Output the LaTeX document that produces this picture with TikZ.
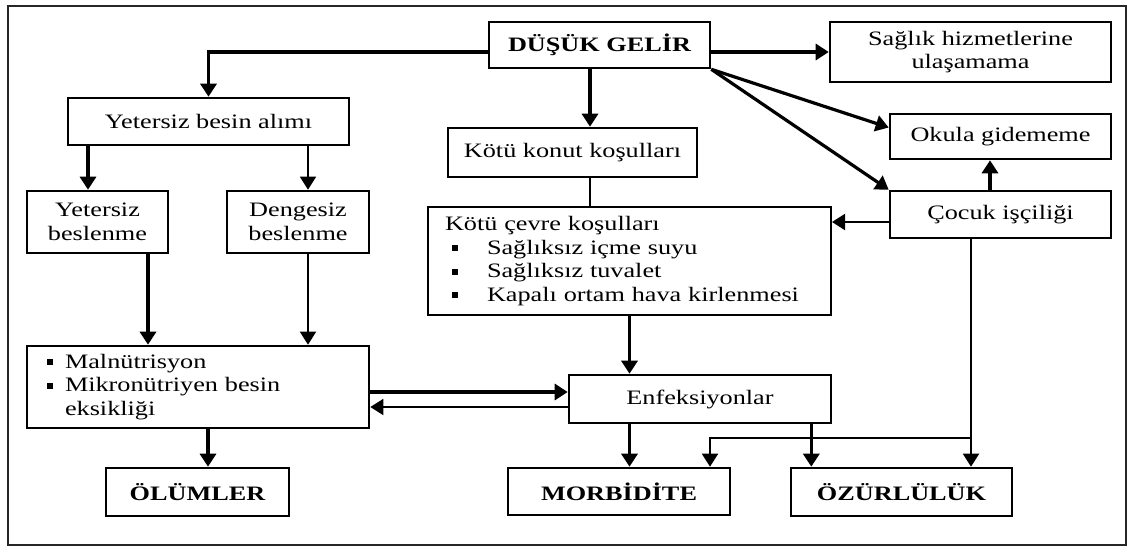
\documentclass[tikz,border=0pt]{standalone}
\usepackage{fontspec}
\setmainfont{Liberation Serif}[FakeStretch=1.28]
\usetikzlibrary{arrows.meta}
\def\sqbullet{\rule[3pt]{6pt}{6pt}}

\begin{document}
\begin{tikzpicture}[x=1pt,y=-1pt,
		box/.style={draw, line width=2.6pt, align=center, inner sep=0pt, font=\fontsize{20.5}{23.5}\selectfont},
		arr/.style={line width=3.2pt, -{Triangle[length=13pt,width=16pt]}},
		marr/.style={line width=2pt, -{Triangle[length=13pt,width=16pt]}},
		tarr/.style={line width=1.5pt, -{Triangle[length=13pt,width=16pt]}},
		link/.style={line width=2.8pt}]
		%%%%% START %%%%%
		
		\useasboundingbox (0,0) rectangle (1131,547);
		\draw[line width=1.4pt, color=black!85] (8,6) rectangle (1126,545);
		
		\node[box, minimum width=221pt, minimum height=46pt] (gelir) at (599.5,45) {\bfseries DÜŞÜK GELİR};
		\node[box, minimum width=281pt, minimum height=60pt] (saglik) at (970.5,52) {Sağlık hizmetlerine\\ulaşamama};
		\node[box, minimum width=281pt, minimum height=47pt] (alim) at (208.5,121.5) {Yetersiz besin alımı};
		\node[box, minimum width=249pt, minimum height=49pt] (konut) at (572.5,152.5) {Kötü konut koşulları};
		\node[box, minimum width=221pt, minimum height=45pt] (okula) at (1000.5,136.5) {Okula gidememe};
		\node[box, minimum width=221pt, minimum height=47pt] (cocuk) at (1000.5,214.5) {Çocuk işçiliği};
		
		\node[box, minimum width=141pt, minimum height=62pt] (ybes) at (97.5,222) {Yetersiz\\beslenme};
		\node[box, minimum width=142pt, minimum height=62pt] (denge) at (298,222) {Dengesiz\\beslenme};
		\node[box, line width=2pt, align=left, text width=369pt, inner xsep=17pt, minimum height=108pt] (cevre) at (629.5,261)
			{Kötü çevre koşulları\\
			\makebox[42pt][l]{\hspace{7pt}\sqbullet}Sağlıksız içme suyu\\
			\makebox[42pt][l]{\hspace{7pt}\sqbullet}Sağlıksız tuvalet\\
			\makebox[42pt][l]{\hspace{7pt}\sqbullet}Kapalı ortam hava kirlenmesi};
		
		\node[box, align=left, text width=302pt, inner xsep=20pt, minimum height=82pt] (malnu) at (198,387)
			{\makebox[18pt][l]{\sqbullet}Malnütrisyon\\
			\makebox[18pt][l]{\sqbullet}Mikronütriyen besin\\
			\hspace*{18pt}eksikliği};
		\node[box, minimum width=262pt, minimum height=48pt] (enf) at (700,399) {Enfeksiyonlar};
		
		\node[box, minimum width=183pt, minimum height=48pt] (olum) at (197.5,492) {\bfseries ÖLÜMLER};
		\node[box, minimum width=222pt, minimum height=47pt] (morb) at (619,491.5) {\bfseries MORBİDİTE};
		\node[box, minimum width=221pt, minimum height=48pt] (ozur) at (901.5,492) {\bfseries ÖZÜRLÜLÜK};
		
		% from the top box
		\draw[arr] (gelir.west |- saglik.west) -| (alim.north);
		\draw[arr] (gelir.east |- saglik.west) -- (saglik.west);
		\draw[arr] ([xshift=-9.5pt]gelir.south) -- ([xshift=-9.5pt]gelir.south |- konut.north);
		\draw[arr] (gelir.south east) -- ([yshift=9pt]okula.west);
		\draw[arr] (gelir.south east) -- (cocuk.north west);
		
		\draw[arr] ([xshift=-10.5pt]cocuk.north) -- ([xshift=-10.5pt]okula.south);
		\draw[marr] ([yshift=-7.5pt]cocuk.west) -- ([yshift=-7.5pt]cocuk.west -| cevre.east);
		\draw[link] ([xshift=17.5pt]konut.south) -- ([xshift=17.5pt]konut.south |- cevre.north);
		
		\draw[arr] ([xshift=-9.5pt]ybes.north |- alim.south) -- ([xshift=-9.5pt]ybes.north);
		\draw[tarr] ([xshift=10pt]denge.north |- alim.south) -- ([xshift=10pt]denge.north);
		\draw[arr] ([xshift=50.5pt]ybes.south) -- ([xshift=50.5pt]ybes.south |- malnu.north);
		\draw[tarr] ([xshift=10pt]denge.south) -- ([xshift=10pt]denge.south |- malnu.north);
		
		\draw[arr] (cevre.south) -- (cevre.south |- enf.north);
		\draw[arr] ([yshift=-5pt]malnu.east) -- ([yshift=-5pt]malnu.east -| enf.west);
		\draw[tarr] ([yshift=-8pt]enf.west) -- ([yshift=-8pt]enf.west -| malnu.east);
		
		% to the bottom row
		\draw[arr] ([xshift=10.5pt]olum.north |- malnu.south) -- ([xshift=10.5pt]olum.north);
		\draw[arr] (enf.south -| cevre.south) -- (morb.north -| cevre.south);
		\draw[arr] ([xshift=-21pt]enf.south east) -- ([xshift=-21pt]enf.south east |- ozur.north);
		
		\coordinate (split) at (971,438);
		\draw[marr] (cocuk.south -| split) -- (split |- ozur.north);
		\draw[marr] (split) -| ([xshift=91pt]morb.north);
		
		%%%%% END %%%%%
	\end{tikzpicture}
\end{document}
